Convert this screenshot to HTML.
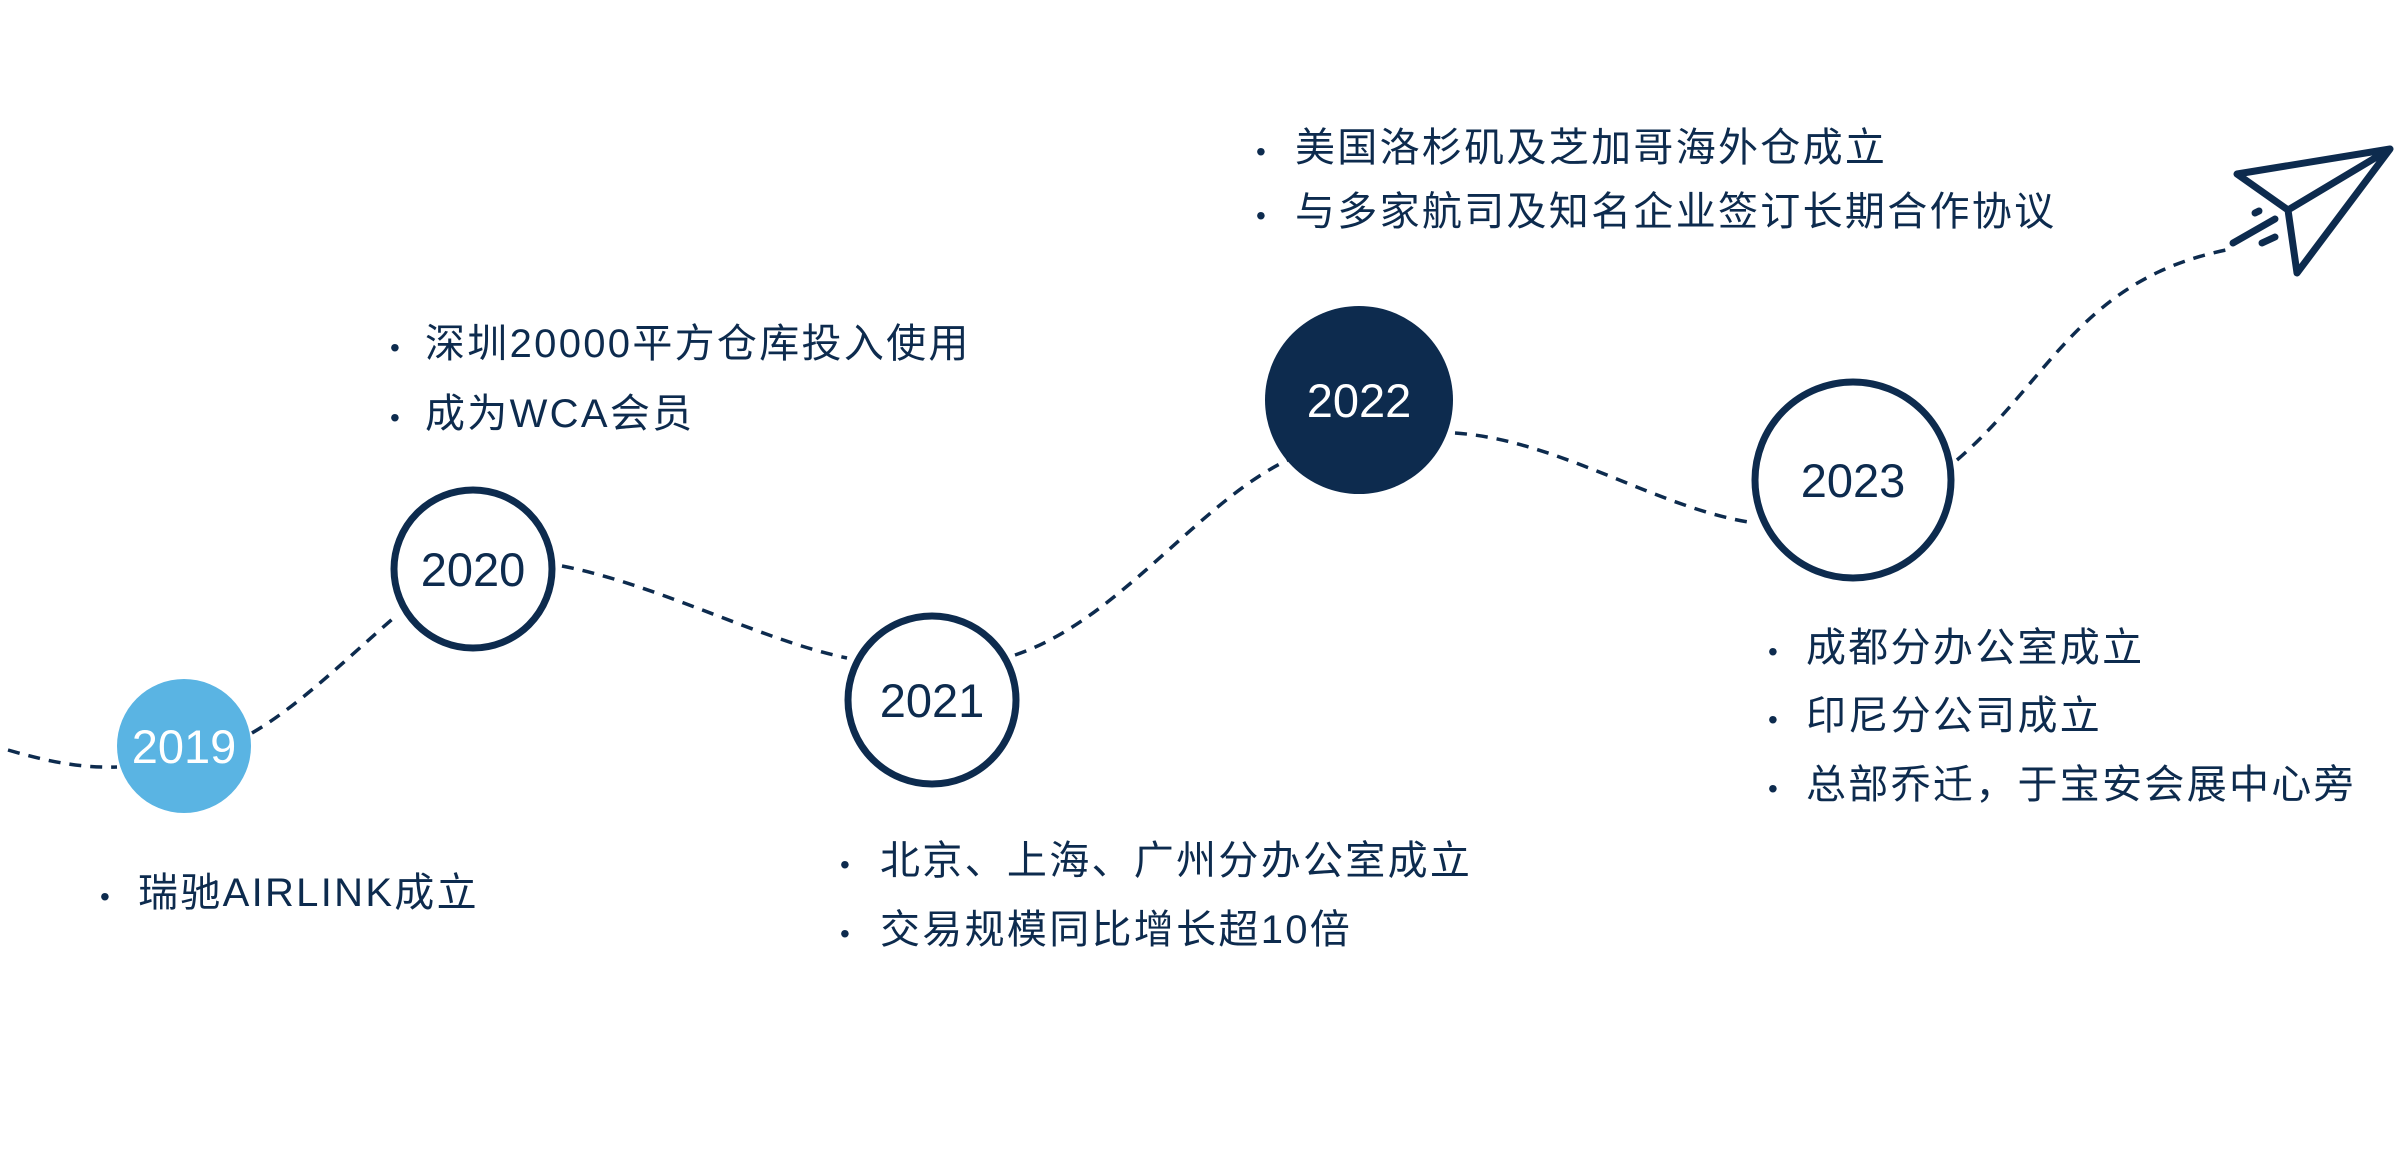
<!DOCTYPE html>
<html><head><meta charset="utf-8"><style>
html,body{margin:0;padding:0;background:#fff;}
svg{display:block;}
text{font-family:"Liberation Sans","Noto Sans CJK SC",sans-serif;}
</style></head><body>
<svg width="2400" height="1150" viewBox="0 0 2400 1150" xmlns="http://www.w3.org/2000/svg">
<g fill="none" stroke="#0d2b4e" stroke-width="3.5" stroke-dasharray="12 9">
<path d="M8 750 C50 762 80 768 117 767"/>
<path d="M252 733 C300 705 345 660 397 615"/>
<path d="M562 566 C660 585 760 640 847 658"/>
<path d="M1015 655 C1120 620 1200 500 1290 459"/>
<path d="M1455 433 C1560 440 1660 510 1755 523"/>
<path d="M1957 460 C2050 380 2080 280 2226 250"/>
</g>
<circle cx="184" cy="746" r="67" fill="#5ab4e3"/>
<circle cx="473" cy="569" r="79" fill="#fff" stroke="#0d2b4e" stroke-width="7"/>
<circle cx="932" cy="700" r="84" fill="#fff" stroke="#0d2b4e" stroke-width="7"/>
<circle cx="1359" cy="400" r="94" fill="#0d2b4e"/>
<circle cx="1853" cy="480" r="98" fill="#fff" stroke="#0d2b4e" stroke-width="7"/>
<g font-size="47" text-anchor="middle">
<text x="184" y="763" fill="#fff">2019</text>
<text x="473" y="586" fill="#0d2b4e">2020</text>
<text x="932" y="717" fill="#0d2b4e">2021</text>
<text x="1359" y="417" fill="#fff">2022</text>
<text x="1853" y="497" fill="#0d2b4e">2023</text>
</g>
<g stroke="#0d2b4e" stroke-width="7" fill="none" stroke-linecap="round" stroke-linejoin="round">
<path d="M2390 149 L2237 174 L2288 210 Z M2288 210 L2297 273 L2390 149"/>
<path d="M2255 213 L2259 211 M2233 243 L2275 219 M2262 243 L2275 237"/>
</g>
<g font-size="40" fill="#0d2b4e" letter-spacing="2.3">
<text x="390" y="357" font-size="28">•</text><text x="425" y="357">深圳20000平方仓库投入使用</text>
<text x="390" y="427" font-size="28">•</text><text x="425" y="427">成为WCA会员</text>
<text x="100" y="906" font-size="28">•</text><text x="138" y="906">瑞驰AIRLINK成立</text>
<text x="840" y="874" font-size="28">•</text><text x="880" y="874">北京、上海、广州分办公室成立</text>
<text x="840" y="943" font-size="28">•</text><text x="880" y="943">交易规模同比增长超10倍</text>
<text x="1256" y="161" font-size="28">•</text><text x="1295" y="161">美国洛杉矶及芝加哥海外仓成立</text>
<text x="1256" y="225" font-size="28">•</text><text x="1295" y="225">与多家航司及知名企业签订长期合作协议</text>
<text x="1768" y="661" font-size="28">•</text><text x="1806" y="661">成都分办公室成立</text>
<text x="1768" y="729" font-size="28">•</text><text x="1806" y="729">印尼分公司成立</text>
<text x="1768" y="798" font-size="28">•</text><text x="1806" y="798">总部乔迁，于宝安会展中心旁</text>
</g>
</svg>
</body></html>
